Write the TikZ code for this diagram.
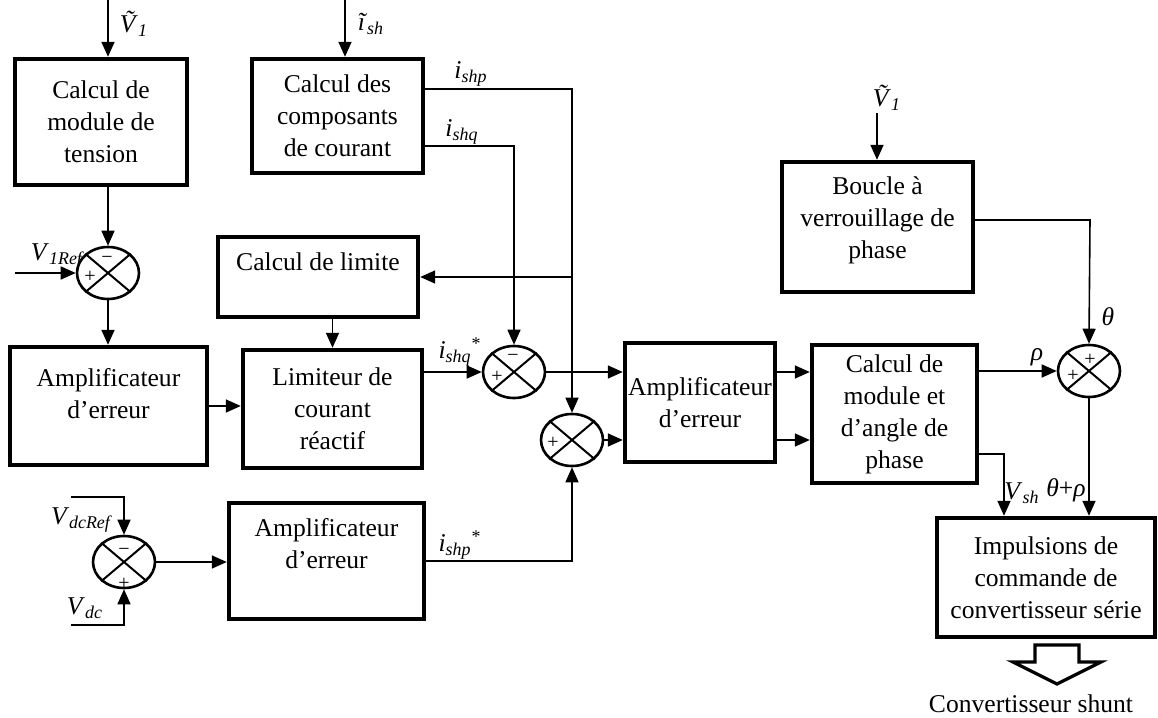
\documentclass[tikz,border=0pt]{standalone}
\usepackage{fontspec}
\setmainfont{Liberation Serif}
\usetikzlibrary{arrows.meta,shapes.geometric,calc}

\newcommand{\vsub}[2]{\textit{#1}\textsubscript{\textit{#2}}}

\begin{document}
\begin{tikzpicture}[
        x=0.5pt, y=-0.5pt,
        font=\fontsize{12.8}{16}\selectfont,
        blk/.style={draw, line width=2.2pt, align=center, inner sep=0pt},
        sumj/.style={draw, ellipse, line width=1.3pt, minimum width=31pt, minimum height=26pt, inner sep=0pt},
        sgn/.style={font=\fontsize{10}{10}\selectfont, inner sep=0pt},
        lbl/.style={inner sep=0pt},
        wire/.style={line width=0.8pt},
        arr/.style={wire, -{Triangle[length=7.5pt,width=6.5pt]}}
    ]

    \useasboundingbox (0,0) rectangle (1158,718);

    % blocks
    \node[blk, minimum width=86pt, minimum height=63pt] (A) at (101,122) {Calcul de\\module de\\tension};
    \node[blk, minimum width=85.5pt, minimum height=57pt] (B) at (337.5,116) {Calcul des\\composants\\de courant};
    \node[blk, minimum width=100pt, minimum height=40pt, text depth=15pt] (C) at (318,277) {Calcul de limite};
    \node[blk, minimum width=98.5pt, minimum height=59pt, text depth=13pt] (D) at (108.5,406) {Amplificateur\\d'erreur};
    \node[blk, minimum width=89.5pt, minimum height=59pt] (E) at (332.5,409) {Limiteur de\\courant\\réactif};
    \node[blk, minimum width=97.5pt, minimum height=58pt, text depth=18pt] (G) at (326.5,561) {Amplificateur\\d'erreur};
    \node[blk, minimum width=75pt, minimum height=59.5pt] (F) at (700,402.5) {Amplificateur\\d'erreur};
    \node[blk, minimum width=82.5pt, minimum height=69pt] (H) at (894.5,414) {Calcul de\\module et\\d'angle de\\phase};
    \node[blk, minimum width=95.5pt, minimum height=65pt, text depth=9pt] (K) at (877.5,227) {Boucle à\\verrouillage de\\phase};
    \node[blk, minimum width=109pt, minimum height=59.5pt] (I) at (1046,577.5) {Impulsions de\\commande de\\convertisseur série};

    % summing junctions
    \node[sumj] (S1) at (108,273) {};
    \node[sumj] (S2) at (514,372) {};
    \node[sumj] (S3) at (572,440) {};
    \node[sumj] (S4) at (1089,371) {};
    \node[sumj] (S5) at (124,562) {};
    \foreach \s in {S1,S2,S3,S4,S5}
        \draw[line width=1pt] (\s.north west) -- (\s.south east) (\s.north east) -- (\s.south west);

    % signs
    \node[sgn] (S1m) at ($(S1)+(-1,-13)$) {−};
    \node[sgn] (S1p) at ($(S1)+(-18,4)$) {+};
    \node[sgn] (S2m) at ($(S2)+(-1,-14)$) {−};
    \node[sgn] (S2p) at ($(S2)+(-17,5)$) {+};
    \node[sgn] (S3p) at ($(S3)+(-19,3)$) {+};
    \node[sgn] (S4a) at ($(S4)+(1,-11)$) {+};
    \node[sgn] (S4b) at ($(S4)+(-16,5)$) {+};
    \node[sgn] (S5m) at ($(S5)+(0,-10)$) {−};
    \node[sgn] (S5p) at ($(S5)+(0,22)$) {+};

    % free ends
    \coordinate (inA) at (108,0);
    \coordinate (inB) at (345,0);
    \coordinate (inK) at (877,113);
    \coordinate (inR) at (15,273);
    \coordinate (vr) at (71,497);
    \coordinate (vd) at (71,625);
    \coordinate (pp) at (572,89);
    \coordinate (qq) at (514,146);
    \coordinate (th) at (1090,220);
    \coordinate (vs) at (1004,454);

    % connectors
    \draw[arr] (inA) -- (inA |- A.north);
    \draw[arr] (inB) -- (inB |- B.north);
    \draw[arr] (inK) -- (inK |- K.north);
    \draw[arr] (S1 |- A.south) -- (S1.north);
    \draw[arr] (inR) -- (S1.west);
    \draw[arr] (S1.south) -- (S1 |- D.north);
    \draw[arr] (D.east) -- (D.east -| E.west);
    \draw[arr] (E.north |- C.south) -- (E.north);
    \draw[arr] (B.east |- pp) -- (pp) -- (S3.north);
    \draw[arr] (B.east |- qq) -- (qq) -- (S2.north);
    \draw[arr] (pp |- C.east) -- (C.east);
    \draw[arr] (E.east |- S2) -- (S2.west);
    \draw[arr] (S2.east) -- (S2.east -| F.west);
    \draw[arr] (S3.east) -- (S3.east -| F.west);
    \draw[arr] (G.east) -- (G.east -| S3) -- (S3.south);
    \draw[arr] (vr) -- (vr -| S5) -- (S5.north);
    \draw[arr] (vd) -- (vd -| S5) -- (S5.south);
    \draw[arr] (S5.east) -- (S5.east -| G.west);
    \draw[arr] (F.east |- S2) -- (H.west |- S2);
    \draw[arr] (F.east |- S3) -- (H.west |- S3);
    \draw[arr] (K.east |- th) -- (th) -- (S4.north);
    \draw[arr] (H.east |- S4) -- (S4.west);
    \draw[arr] (H.east |- vs) -- (vs) -- (vs |- I.north);
    \draw[arr] (S4.south) -- (S4 |- I.north);

    % output arrow
    \coordinate (out) at (1057,645);
    \draw[line width=1.6pt, line join=miter] (out) ++(-22,0) -- ++(44,0) -- ++(0,17) -- ++(22,0)
        -- ++(-44,22) -- ++(-44,-22) -- ++(22,0) -- cycle;
    \node[lbl] (conv) at (1031,704) {Convertisseur shunt};

    % signal labels
    \node[lbl] (lVa) at (134,24) {\vsub{\~{V}}{1}};
    \node[lbl] (lIsh) at (371,24) {\vsub{ĩ}{sh}};
    \node[lbl] (lIp) at (471,74) {\vsub{i}{shp}};
    \node[lbl] (lIq) at (462,132) {\vsub{i}{shq}};
    \node[lbl] (lVr) at (58,256) {\vsub{V}{1Ref}};
    \node[lbl] (lIqs) at (460,352) {\vsub{i}{shq}\textsuperscript{*}};
    \node[lbl] (lIps) at (460,545) {\vsub{i}{shp}\textsuperscript{*}};
    \node[lbl] (lVdr) at (82,520) {\vsub{V}{dcRef}};
    \node[lbl] (lVdc) at (85,608) {\vsub{V}{dc}};
    \node[lbl] (lVb) at (887,98) {\vsub{\~{V}}{1}};
    \node[lbl] (lth) at (1108,317) {\textit{θ}};
    \node[lbl] (lrho) at (1037,357) {\textit{ρ}};
    \node[lbl] (lVsh) at (1022,493) {\vsub{V}{sh}};
    \node[lbl] (lthr) at (1066,490) {\textit{θ}+\textit{ρ}};

\end{tikzpicture}
\end{document}
